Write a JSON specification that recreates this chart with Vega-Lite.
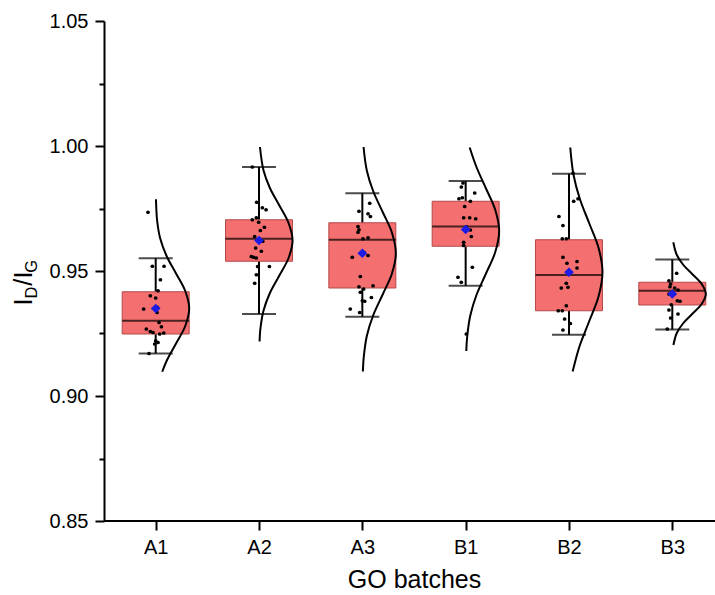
{
  "$schema": "https://vega.github.io/schema/vega-lite/v6.json",
  "width": 611,
  "height": 500,
  "autosize": {"type": "none"},
  "padding": {"left": 104, "top": 21, "right": 0, "bottom": 74},
  "background": "white",
  "config": {"view": {"stroke": null}, "font": "Liberation Sans", "axis": {"grid": false}},
  "datasets": {
    "stats": [
      {"batch": "A1", "lower": 0.9170, "q1": 0.9248, "median": 0.9301, "q3": 0.9417, "upper": 0.9551, "mean": 0.9350},
      {"batch": "A2", "lower": 0.9328, "q1": 0.9539, "median": 0.9629, "q3": 0.9705, "upper": 0.9916, "mean": 0.9622},
      {"batch": "A3", "lower": 0.9317, "q1": 0.9432, "median": 0.9625, "q3": 0.9693, "upper": 0.9811, "mean": 0.9571},
      {"batch": "B1", "lower": 0.9441, "q1": 0.9599, "median": 0.9678, "q3": 0.9779, "upper": 0.9860, "mean": 0.9666},
      {"batch": "B2", "lower": 0.9245, "q1": 0.9341, "median": 0.9484, "q3": 0.9625, "upper": 0.9889, "mean": 0.9495},
      {"batch": "B3", "lower": 0.9266, "q1": 0.9364, "median": 0.9421, "q3": 0.9455, "upper": 0.9546, "mean": 0.9408}
    ],
    "pts": [
      {"batch": "A1", "value": 0.9735, "jitter": -0.23},
      {"batch": "A1", "value": 0.9519, "jitter": -0.10},
      {"batch": "A1", "value": 0.9519, "jitter": 0.25},
      {"batch": "A1", "value": 0.9465, "jitter": 0.14},
      {"batch": "A1", "value": 0.9421, "jitter": 0.07},
      {"batch": "A1", "value": 0.9401, "jitter": -0.16},
      {"batch": "A1", "value": 0.9392, "jitter": 0.00},
      {"batch": "A1", "value": 0.9348, "jitter": -0.36},
      {"batch": "A1", "value": 0.9355, "jitter": 0.05},
      {"batch": "A1", "value": 0.9334, "jitter": 0.04},
      {"batch": "A1", "value": 0.9294, "jitter": 0.10},
      {"batch": "A1", "value": 0.9277, "jitter": 0.17},
      {"batch": "A1", "value": 0.9268, "jitter": -0.28},
      {"batch": "A1", "value": 0.9258, "jitter": -0.16},
      {"batch": "A1", "value": 0.9254, "jitter": -0.08},
      {"batch": "A1", "value": 0.9248, "jitter": 0.12},
      {"batch": "A1", "value": 0.9252, "jitter": 0.24},
      {"batch": "A1", "value": 0.9221, "jitter": 0.00},
      {"batch": "A1", "value": 0.9214, "jitter": 0.07},
      {"batch": "A1", "value": 0.9208, "jitter": -0.03},
      {"batch": "A1", "value": 0.9170, "jitter": -0.20},
      {"batch": "A2", "value": 0.9916, "jitter": -0.20},
      {"batch": "A2", "value": 0.9775, "jitter": -0.07},
      {"batch": "A2", "value": 0.9753, "jitter": 0.10},
      {"batch": "A2", "value": 0.9745, "jitter": 0.21},
      {"batch": "A2", "value": 0.9705, "jitter": -0.20},
      {"batch": "A2", "value": 0.9713, "jitter": -0.08},
      {"batch": "A2", "value": 0.9695, "jitter": -0.01},
      {"batch": "A2", "value": 0.9675, "jitter": 0.16},
      {"batch": "A2", "value": 0.9662, "jitter": 0.04},
      {"batch": "A2", "value": 0.9638, "jitter": -0.13},
      {"batch": "A2", "value": 0.9619, "jitter": 0.11},
      {"batch": "A2", "value": 0.9592, "jitter": -0.10},
      {"batch": "A2", "value": 0.9579, "jitter": 0.07},
      {"batch": "A2", "value": 0.9558, "jitter": -0.23},
      {"batch": "A2", "value": 0.9555, "jitter": -0.16},
      {"batch": "A2", "value": 0.9552, "jitter": -0.08},
      {"batch": "A2", "value": 0.9518, "jitter": -0.04},
      {"batch": "A2", "value": 0.9518, "jitter": 0.31},
      {"batch": "A2", "value": 0.9485, "jitter": -0.08},
      {"batch": "A2", "value": 0.9451, "jitter": -0.13},
      {"batch": "A3", "value": 0.9771, "jitter": 0.22},
      {"batch": "A3", "value": 0.9739, "jitter": -0.10},
      {"batch": "A3", "value": 0.9729, "jitter": 0.17},
      {"batch": "A3", "value": 0.9718, "jitter": 0.24},
      {"batch": "A3", "value": 0.9678, "jitter": -0.13},
      {"batch": "A3", "value": 0.9665, "jitter": -0.10},
      {"batch": "A3", "value": 0.9655, "jitter": -0.13},
      {"batch": "A3", "value": 0.9629, "jitter": 0.02},
      {"batch": "A3", "value": 0.9633, "jitter": 0.17},
      {"batch": "A3", "value": 0.9575, "jitter": 0.05},
      {"batch": "A3", "value": 0.9555, "jitter": -0.30},
      {"batch": "A3", "value": 0.9562, "jitter": 0.17},
      {"batch": "A3", "value": 0.9478, "jitter": -0.06},
      {"batch": "A3", "value": 0.9437, "jitter": -0.10},
      {"batch": "A3", "value": 0.9441, "jitter": 0.32},
      {"batch": "A3", "value": 0.9428, "jitter": 0.04},
      {"batch": "A3", "value": 0.9415, "jitter": -0.06},
      {"batch": "A3", "value": 0.9381, "jitter": 0.00},
      {"batch": "A3", "value": 0.9379, "jitter": 0.07},
      {"batch": "A3", "value": 0.9394, "jitter": 0.27},
      {"batch": "A3", "value": 0.9348, "jitter": -0.36},
      {"batch": "A3", "value": 0.9334, "jitter": -0.08},
      {"batch": "B1", "value": 0.9852, "jitter": -0.08},
      {"batch": "B1", "value": 0.9836, "jitter": -0.13},
      {"batch": "B1", "value": 0.9812, "jitter": 0.27},
      {"batch": "B1", "value": 0.9789, "jitter": -0.20},
      {"batch": "B1", "value": 0.9793, "jitter": -0.10},
      {"batch": "B1", "value": 0.9779, "jitter": 0.14},
      {"batch": "B1", "value": 0.9758, "jitter": -0.03},
      {"batch": "B1", "value": 0.9713, "jitter": -0.06},
      {"batch": "B1", "value": 0.9713, "jitter": 0.12},
      {"batch": "B1", "value": 0.9709, "jitter": 0.30},
      {"batch": "B1", "value": 0.9677, "jitter": 0.02},
      {"batch": "B1", "value": 0.9664, "jitter": 0.14},
      {"batch": "B1", "value": 0.9638, "jitter": 0.17},
      {"batch": "B1", "value": 0.9615, "jitter": -0.06},
      {"batch": "B1", "value": 0.9602, "jitter": -0.06},
      {"batch": "B1", "value": 0.9515, "jitter": 0.20},
      {"batch": "B1", "value": 0.9475, "jitter": -0.23},
      {"batch": "B1", "value": 0.9455, "jitter": -0.13},
      {"batch": "B1", "value": 0.9248, "jitter": 0.02},
      {"batch": "B2", "value": 0.9892, "jitter": 0.12},
      {"batch": "B2", "value": 0.9789, "jitter": 0.27},
      {"batch": "B2", "value": 0.9779, "jitter": 0.14},
      {"batch": "B2", "value": 0.9718, "jitter": -0.30},
      {"batch": "B2", "value": 0.9682, "jitter": -0.18},
      {"batch": "B2", "value": 0.9629, "jitter": -0.20},
      {"batch": "B2", "value": 0.9629, "jitter": -0.08},
      {"batch": "B2", "value": 0.9555, "jitter": -0.18},
      {"batch": "B2", "value": 0.9538, "jitter": 0.24},
      {"batch": "B2", "value": 0.9531, "jitter": -0.06},
      {"batch": "B2", "value": 0.9512, "jitter": 0.24},
      {"batch": "B2", "value": 0.9451, "jitter": -0.08},
      {"batch": "B2", "value": 0.9435, "jitter": -0.03},
      {"batch": "B2", "value": 0.9432, "jitter": -0.23},
      {"batch": "B2", "value": 0.9361, "jitter": -0.08},
      {"batch": "B2", "value": 0.9341, "jitter": -0.20},
      {"batch": "B2", "value": 0.9341, "jitter": -0.32},
      {"batch": "B2", "value": 0.9308, "jitter": -0.13},
      {"batch": "B2", "value": 0.9290, "jitter": 0.04},
      {"batch": "B2", "value": 0.9264, "jitter": -0.18},
      {"batch": "B3", "value": 0.9491, "jitter": 0.13},
      {"batch": "B3", "value": 0.9461, "jitter": -0.10},
      {"batch": "B3", "value": 0.9448, "jitter": -0.05},
      {"batch": "B3", "value": 0.9437, "jitter": -0.07},
      {"batch": "B3", "value": 0.9432, "jitter": 0.07},
      {"batch": "B3", "value": 0.9424, "jitter": 0.17},
      {"batch": "B3", "value": 0.9408, "jitter": -0.10},
      {"batch": "B3", "value": 0.9381, "jitter": 0.15},
      {"batch": "B3", "value": 0.9379, "jitter": 0.23},
      {"batch": "B3", "value": 0.9365, "jitter": -0.03},
      {"batch": "B3", "value": 0.9344, "jitter": -0.10},
      {"batch": "B3", "value": 0.9328, "jitter": 0.17},
      {"batch": "B3", "value": 0.9312, "jitter": -0.05},
      {"batch": "B3", "value": 0.9268, "jitter": -0.15}
    ],
    "curve": [
      {"batch": "A1", "v": 0.9097, "w": 0.195},
      {"batch": "A1", "v": 0.9140, "w": 0.325},
      {"batch": "A1", "v": 0.9210, "w": 0.607},
      {"batch": "A1", "v": 0.9280, "w": 0.882},
      {"batch": "A1", "v": 0.9350, "w": 1.0},
      {"batch": "A1", "v": 0.9420, "w": 0.882},
      {"batch": "A1", "v": 0.9490, "w": 0.607},
      {"batch": "A1", "v": 0.9560, "w": 0.325},
      {"batch": "A1", "v": 0.9630, "w": 0.135},
      {"batch": "A1", "v": 0.9700, "w": 0.044},
      {"batch": "A1", "v": 0.9787, "w": 0.008},
      {"batch": "A2", "v": 0.9218, "w": 0.016},
      {"batch": "A2", "v": 0.9272, "w": 0.044},
      {"batch": "A2", "v": 0.9342, "w": 0.135},
      {"batch": "A2", "v": 0.9412, "w": 0.325},
      {"batch": "A2", "v": 0.9482, "w": 0.607},
      {"batch": "A2", "v": 0.9552, "w": 0.882},
      {"batch": "A2", "v": 0.9622, "w": 1.0},
      {"batch": "A2", "v": 0.9692, "w": 0.882},
      {"batch": "A2", "v": 0.9762, "w": 0.607},
      {"batch": "A2", "v": 0.9832, "w": 0.325},
      {"batch": "A2", "v": 0.9902, "w": 0.135},
      {"batch": "A2", "v": 0.9996, "w": 0.028},
      {"batch": "A3", "v": 0.9098, "w": 0.016},
      {"batch": "A3", "v": 0.9158, "w": 0.044},
      {"batch": "A3", "v": 0.9241, "w": 0.135},
      {"batch": "A3", "v": 0.9323, "w": 0.325},
      {"batch": "A3", "v": 0.9406, "w": 0.607},
      {"batch": "A3", "v": 0.9489, "w": 0.882},
      {"batch": "A3", "v": 0.9571, "w": 1.0},
      {"batch": "A3", "v": 0.9654, "w": 0.882},
      {"batch": "A3", "v": 0.9736, "w": 0.607},
      {"batch": "A3", "v": 0.9819, "w": 0.325},
      {"batch": "A3", "v": 0.9901, "w": 0.135},
      {"batch": "A3", "v": 0.9996, "w": 0.036},
      {"batch": "B1", "v": 0.9180, "w": 0.019},
      {"batch": "B1", "v": 0.9235, "w": 0.044},
      {"batch": "B1", "v": 0.9320, "w": 0.135},
      {"batch": "B1", "v": 0.9405, "w": 0.325},
      {"batch": "B1", "v": 0.9490, "w": 0.607},
      {"batch": "B1", "v": 0.9575, "w": 0.882},
      {"batch": "B1", "v": 0.9660, "w": 1.0},
      {"batch": "B1", "v": 0.9745, "w": 0.882},
      {"batch": "B1", "v": 0.9830, "w": 0.607},
      {"batch": "B1", "v": 0.9915, "w": 0.325},
      {"batch": "B1", "v": 0.9994, "w": 0.120},
      {"batch": "B2", "v": 0.9098, "w": 0.110},
      {"batch": "B2", "v": 0.9150, "w": 0.209},
      {"batch": "B2", "v": 0.9203, "w": 0.325},
      {"batch": "B2", "v": 0.9300, "w": 0.607},
      {"batch": "B2", "v": 0.9398, "w": 0.882},
      {"batch": "B2", "v": 0.9495, "w": 1.0},
      {"batch": "B2", "v": 0.9593, "w": 0.882},
      {"batch": "B2", "v": 0.9690, "w": 0.607},
      {"batch": "B2", "v": 0.9788, "w": 0.325},
      {"batch": "B2", "v": 0.9885, "w": 0.135},
      {"batch": "B2", "v": 0.9994, "w": 0.038},
      {"batch": "B3", "v": 0.9204, "w": 0.033},
      {"batch": "B3", "v": 0.9252, "w": 0.135},
      {"batch": "B3", "v": 0.9291, "w": 0.325},
      {"batch": "B3", "v": 0.9330, "w": 0.607},
      {"batch": "B3", "v": 0.9369, "w": 0.882},
      {"batch": "B3", "v": 0.9408, "w": 1.0},
      {"batch": "B3", "v": 0.9447, "w": 0.882},
      {"batch": "B3", "v": 0.9486, "w": 0.607},
      {"batch": "B3", "v": 0.9525, "w": 0.325},
      {"batch": "B3", "v": 0.9564, "w": 0.135},
      {"batch": "B3", "v": 0.9615, "w": 0.030}
    ]
  },
  "resolve": {"axis": {"y": "independent"}},
  "layer": [
    {
      "data": {"values": [{}]},
      "mark": {"type": "rule", "strokeWidth": 2, "color": "black"},
      "encoding": {
        "y": {"datum": 0.85, "type": "quantitative", "scale": {"domain": [0.85, 1.05], "nice": false, "zero": false}, "axis": null}
      }
    },
    {
      "encoding": {
        "x": {
          "field": "batch", "type": "nominal",
          "scale": {"type": "point", "padding": 0, "domain": ["A1", "A2", "A3", "B1", "B2", "B3"], "range": [51.7, 568.3]},
          "axis": {"orient": "bottom", "domain": false, "tickSize": 9, "tickWidth": 2, "tickColor": "black", "labelAngle": 0, "labelFont": "Liberation Sans", "labelFontSize": 20, "labelColor": "black", "labelPadding": 7, "title": "GO batches", "titleFont": "Liberation Sans", "titleFontSize": 25, "titleFontWeight": "normal", "titleColor": "black", "titlePadding": 10}
        }
      },
      "resolve": {"axis": {"y": "independent"}},
      "layer": [
        {
          "data": {"name": "stats"},
          "mark": {"type": "rule", "strokeWidth": 2, "color": "black"},
          "encoding": {
            "y": {"field": "lower", "type": "quantitative", "scale": {"domain": [0.85, 1.05], "nice": false, "zero": false},
              "axis": {"orient": "left", "values": [0.85, 0.9, 0.95, 1.0, 1.05], "format": ".2f", "tickSize": 9, "tickWidth": 2, "tickColor": "black", "domainColor": "black", "domainWidth": 2, "labelFont": "Liberation Sans", "labelFontSize": 20, "labelColor": "black", "labelPadding": 7, "title": "I\u2002/I", "titleFont": "Liberation Sans", "titleFontSize": 25.5, "titleFontWeight": "normal", "titleColor": "black", "titleAngle": 270, "titleAlign": "left", "titleBaseline": "alphabetic", "titleX": -72.6, "titleY": 284}},
            "y2": {"field": "upper"}
          }
        },
        {
          "data": {"name": "stats"},
          "mark": {"type": "bar", "size": 67, "fill": "#f46f6f", "stroke": "#b34a4a", "strokeWidth": 1},
          "encoding": {
            "y": {"field": "q1", "type": "quantitative", "scale": {"domain": [0.85, 1.05], "nice": false, "zero": false},
              "axis": {"orient": "left", "values": [0.875, 0.925, 0.975, 1.025], "tickSize": 5, "tickWidth": 2, "tickColor": "black", "labels": false, "domain": false, "title": "D\u00a0\u00a0\u00a0G", "titleFont": "Liberation Sans", "titleFontSize": 16.5, "titleFontWeight": "normal", "titleColor": "black", "titleAngle": 270, "titleAlign": "left", "titleBaseline": "alphabetic", "titleX": -67.6, "titleY": 276.9}},
            "y2": {"field": "q3"}
          }
        },
        {
          "data": {"name": "stats"},
          "mark": {"type": "tick", "size": 67, "thickness": 2, "color": "black"},
          "encoding": {
            "y": {"field": "median", "type": "quantitative", "scale": {"domain": [0.85, 1.05], "nice": false, "zero": false}, "axis": null}
          }
        },
        {
          "data": {"name": "stats"},
          "mark": {"type": "tick", "size": 34, "thickness": 2, "color": "black"},
          "encoding": {
            "y": {"field": "lower", "type": "quantitative", "scale": {"domain": [0.85, 1.05], "nice": false, "zero": false}, "axis": null}
          }
        },
        {
          "data": {"name": "stats"},
          "mark": {"type": "tick", "size": 34, "thickness": 2, "color": "black"},
          "encoding": {
            "y": {"field": "upper", "type": "quantitative", "scale": {"domain": [0.85, 1.05], "nice": false, "zero": false}, "axis": null}
          }
        },
        {
          "data": {"name": "pts"},
          "mark": {"type": "point", "shape": "circle", "filled": true, "size": 14, "color": "black", "opacity": 1},
          "encoding": {
            "y": {"field": "value", "type": "quantitative", "scale": {"domain": [0.85, 1.05], "nice": false, "zero": false}, "axis": null},
            "xOffset": {"field": "jitter", "type": "quantitative", "scale": {"domain": [-1, 1], "range": [-33.5, 33.5]}}
          }
        },
        {
          "data": {"name": "curve"},
          "mark": {"type": "line", "strokeWidth": 2, "color": "black", "interpolate": "catmull-rom"},
          "encoding": {
            "y": {"field": "v", "type": "quantitative", "scale": {"domain": [0.85, 1.05], "nice": false, "zero": false}, "axis": null},
            "xOffset": {"field": "w", "type": "quantitative", "scale": {"domain": [-1, 1], "range": [-33.5, 33.5]}},
            "detail": {"field": "batch"},
            "order": {"field": "v", "type": "quantitative"}
          }
        },
        {
          "data": {"name": "stats"},
          "mark": {"type": "point", "shape": "diamond", "filled": true, "size": 95, "color": "#1c1ce6", "opacity": 1},
          "encoding": {
            "y": {"field": "mean", "type": "quantitative", "scale": {"domain": [0.85, 1.05], "nice": false, "zero": false}, "axis": null}
          }
        }
      ]
    }
  ]
}
